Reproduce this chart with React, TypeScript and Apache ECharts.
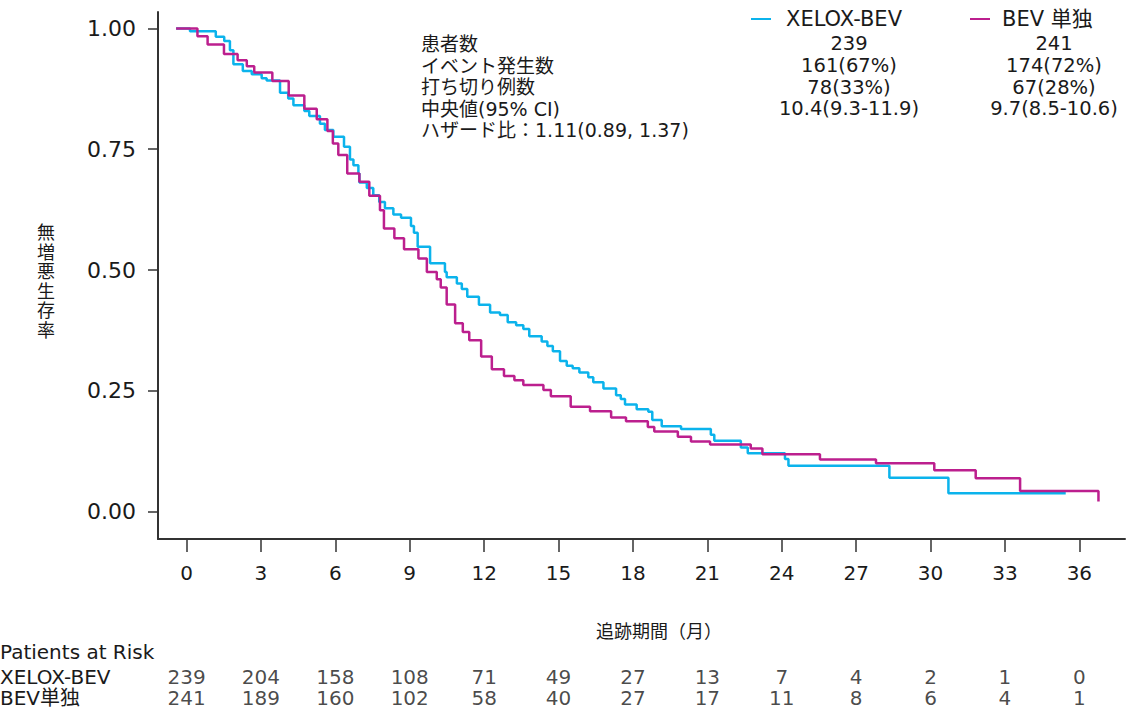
import React, { useEffect, useRef } from "react";
import * as echarts from "echarts";

// Kaplan-Meier step points (time in months, survival after the step)
const xeloxTimes = [-0.42, 0.14, 1.18, 1.52, 1.75, 1.89, 2.27, 2.63, 3.03, 3.23, 3.77, 4.1, 4.31, 4.75, 4.95, 5.38, 5.58, 5.92, 6.35, 6.59, 6.73, 6.93, 6.97, 7.27, 7.53, 7.77, 8.0, 8.34, 8.65, 9.05, 9.17, 9.32, 9.82, 10.42, 10.49, 10.9, 11.1, 11.32, 11.79, 12.24, 12.64, 12.95, 13.29, 13.58, 13.82, 14.32, 14.55, 14.77, 15.06, 15.33, 15.57, 15.84, 16.2, 16.4, 16.81, 17.32, 17.51, 17.68, 18.15, 18.62, 18.78, 19.16, 19.94, 21.14, 21.28, 22.35, 22.63, 24.13, 24.27, 28.34, 30.72, 35.45];
const xeloxSurv = [1.0, 0.994, 0.983, 0.974, 0.955, 0.926, 0.912, 0.905, 0.897, 0.892, 0.867, 0.855, 0.841, 0.829, 0.819, 0.803, 0.79, 0.776, 0.755, 0.729, 0.717, 0.701, 0.681, 0.67, 0.655, 0.641, 0.628, 0.615, 0.608, 0.591, 0.577, 0.548, 0.514, 0.496, 0.485, 0.472, 0.461, 0.445, 0.428, 0.412, 0.407, 0.392, 0.386, 0.378, 0.363, 0.352, 0.343, 0.332, 0.312, 0.302, 0.297, 0.288, 0.278, 0.268, 0.255, 0.241, 0.233, 0.222, 0.212, 0.207, 0.19, 0.177, 0.171, 0.159, 0.147, 0.133, 0.121, 0.109, 0.095, 0.07, 0.038, 0.038];
const bevTimes = [-0.42, 0.44, 0.85, 1.51, 2.06, 2.43, 2.73, 3.46, 4.12, 4.75, 5.25, 5.68, 5.9, 6.12, 6.48, 6.97, 7.37, 7.8, 7.96, 8.38, 8.77, 9.35, 9.69, 10.09, 10.25, 10.49, 10.83, 11.14, 11.4, 11.88, 12.31, 12.8, 13.22, 13.58, 14.39, 14.69, 15.49, 16.27, 17.12, 17.72, 18.6, 18.86, 19.81, 20.34, 21.11, 22.75, 23.22, 25.54, 27.8, 30.15, 31.82, 33.61, 36.77];
const bevSurv = [1.0, 0.984, 0.967, 0.947, 0.934, 0.922, 0.909, 0.891, 0.861, 0.834, 0.812, 0.788, 0.762, 0.738, 0.7, 0.683, 0.654, 0.624, 0.586, 0.566, 0.543, 0.524, 0.496, 0.481, 0.464, 0.429, 0.39, 0.372, 0.355, 0.321, 0.295, 0.281, 0.272, 0.262, 0.252, 0.239, 0.217, 0.208, 0.195, 0.187, 0.175, 0.166, 0.155, 0.145, 0.139, 0.131, 0.119, 0.108, 0.1, 0.086, 0.069, 0.043, 0.021];

const xTicks = [0, 3, 6, 9, 12, 15, 18, 21, 24, 27, 30, 33, 36];
const yTicks = [0, 0.25, 0.5, 0.75, 1.0];

const riskTimes = [0, 3, 6, 9, 12, 15, 18, 21, 24, 27, 30, 33, 36];
const xeloxRisk = [239, 204, 158, 108, 71, 49, 27, 13, 7, 4, 2, 1, 0];
const bevRisk = [241, 189, 160, 102, 58, 40, 27, 17, 11, 8, 6, 4, 1];
const riskRowNames = ["XELOX-BEV", "BEV単独"];

const legendNames = ["XELOX-BEV", "BEV 単独"];
const statLabels = ["患者数", "イベント発生数", "打ち切り例数", "中央値(95% CI)"];
const xeloxStats = ["239", "161(67%)", "78(33%)", "10.4(9.3-11.9)"];
const bevStats = ["241", "174(72%)", "67(28%)", "9.7(8.5-10.6)"];
const hazardText = "ハザード比：1.11(0.89, 1.37)";

const yTitle = "無増悪生存率";
const xTitle = "追跡期間（月）";
const riskTitle = "Patients at Risk";

const BLUE = "#0BB3EC";
const PURPLE = "#BC1F8E";
const INK = "#1a1a1a";
const AXIS = "#333333";
const FONT = "'DejaVu Sans', 'Noto Sans CJK JP', sans-serif";
const CJK = "'Noto Sans CJK JP', sans-serif";

export default function App() {
  const ref = useRef<HTMLDivElement>(null);

  useEffect(() => {
    document.body.style.margin = "0";
    if (!ref.current) return;
    const chart = echarts.init(ref.current, undefined, { renderer: "svg" });

    const txt = (text: string, x: number, y: number, align: string, size = 19, family = FONT, lh?: number) => ({
      type: "text",
      x,
      y,
      silent: true,
      style: {
        text,
        fill: INK,
        fontSize: size,
        fontFamily: family,
        lineHeight: lh ?? size,
        textAlign: align,
        textVerticalAlign: "middle",
      },
    });

    const rowY = [43.5, 65.5, 87, 108.5];
    const graphics: any[] = [];
    statLabels.forEach((s, i) => {
      graphics.push(txt(s, 421, rowY[i], "left", 19));
      graphics.push(txt(xeloxStats[i], 849, rowY[i], "center", 19.5));
      graphics.push(txt(bevStats[i], 1054, rowY[i], "center", 19.5));
    });
    graphics.push(txt(hazardText, 421, 130, "left", 19));
    // legend
    graphics.push({ type: "line", silent: true, shape: { x1: 751, y1: 19, x2: 771, y2: 19 }, style: { stroke: BLUE, lineWidth: 2 } });
    graphics.push(txt(legendNames[0], 786, 19, "left", 21));
    graphics.push({ type: "line", silent: true, shape: { x1: 970, y1: 19, x2: 990, y2: 19 }, style: { stroke: PURPLE, lineWidth: 2 } });
    graphics.push(txt(legendNames[1], 1002, 19, "left", 21));
    // vertical y-axis title, one character per line
    yTitle.split("").forEach((ch, i) => {
      graphics.push(txt(ch, 46, 231 + i * 19.5, "center", 18, CJK, 18));
    });
    graphics.push(txt(xTitle, 659, 630, "center", 18, CJK));
    graphics.push(txt(riskTitle, 0, 652, "left", 20));
    // risk-table row names
    graphics.push(txt(riskRowNames[0], 0, 677, "left", 20));
    graphics.push(txt(riskRowNames[1], 0, 698, "left", 20));

    chart.setOption({
      animation: false,
      backgroundColor: "#ffffff",
      grid: [
        { left: 158, right: 9, top: 12, bottom: 174 },
        { left: 158, right: 9, top: 666.5, height: 42 },
      ],
      xAxis: [
        {
          type: "value",
          gridIndex: 0,
          min: -1.15,
          max: 37.84,
          axisLine: { show: true, onZero: false, lineStyle: { color: AXIS, width: 2 } },
          axisTick: { show: true, customValues: xTicks, length: 13, lineStyle: { color: AXIS, width: 1.5 } },
          axisLabel: { show: true, customValues: xTicks, margin: 24, fontSize: 20, fontFamily: FONT, color: INK },
          splitLine: { show: false },
        },
        { type: "value", gridIndex: 1, min: -1.15, max: 37.84, show: false },
      ],
      yAxis: [
        {
          type: "value",
          gridIndex: 0,
          min: -0.0565,
          max: 1.034,
          axisLine: { show: true, onZero: false, lineStyle: { color: AXIS, width: 2 } },
          axisTick: { show: true, customValues: yTicks, length: 10, lineStyle: { color: AXIS, width: 1.5 } },
          axisLabel: {
            show: true,
            customValues: yTicks,
            formatter: (v: number) => v.toFixed(2),
            margin: 22,
            fontSize: 22,
            fontFamily: FONT,
            color: INK,
          },
          splitLine: { show: false },
        },
        {
          type: "category",
          gridIndex: 1,
          data: riskRowNames,
          inverse: true,
          show: false,
        },
      ],
      series: [
        {
          name: legendNames[0],
          type: "line",
          step: "end",
          symbol: "none",
          xAxisIndex: 0,
          yAxisIndex: 0,
          lineStyle: { color: BLUE, width: 2.5 },
          data: xeloxTimes.map((t, i) => [t, xeloxSurv[i]]),
        },
        {
          name: legendNames[1],
          type: "line",
          step: "end",
          symbol: "none",
          xAxisIndex: 0,
          yAxisIndex: 0,
          lineStyle: { color: PURPLE, width: 2.5 },
          data: bevTimes.map((t, i) => [t, bevSurv[i]]),
        },
        {
          type: "scatter",
          xAxisIndex: 1,
          yAxisIndex: 1,
          symbolSize: 1,
          itemStyle: { color: "rgba(0,0,0,0)" },
          label: {
            show: true,
            position: "inside",
            formatter: (p: any) => String(p.data[2]),
            fontSize: 20,
            fontFamily: FONT,
            color: INK,
          },
          data: [
            ...riskTimes.map((t, i) => [t, 0, xeloxRisk[i]]),
            ...riskTimes.map((t, i) => [t, 1, bevRisk[i]]),
          ],
        },
      ],
      graphic: graphics,
    });

    return () => chart.dispose();
  }, []);

  return <div ref={ref} style={{ width: 1134, height: 713 }} />;
}
